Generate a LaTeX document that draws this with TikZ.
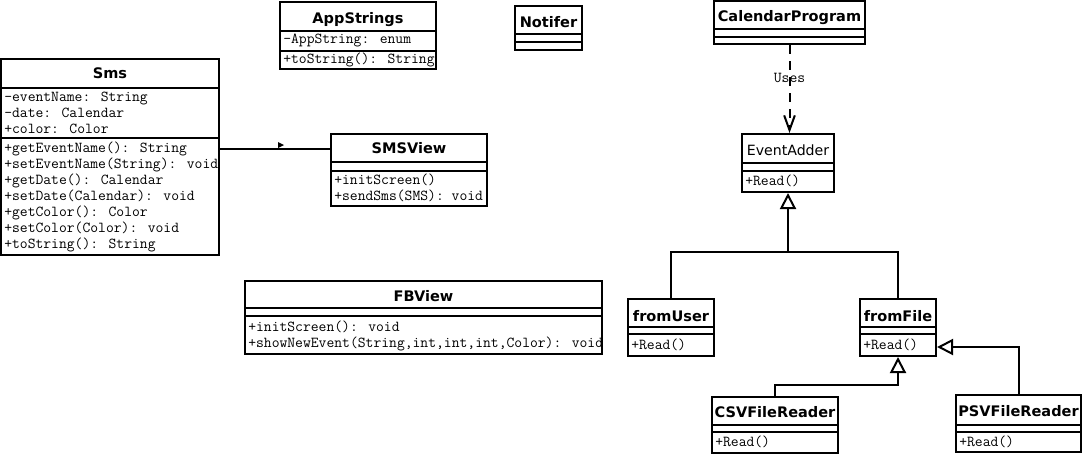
\documentclass[tikz,border=0pt]{standalone}
\usepackage{fontspec}
\setmainfont{DejaVu Sans}
\usetikzlibrary{fit,arrows.meta}
\tikzset{
 cls/.style={draw, line width=1.5pt, inner sep=0pt},
 sepline/.style={line width=1.5pt},
 title/.style={anchor=base, inner sep=0pt, font=\bfseries\fontsize{10.9}{12}\selectfont},
 plaintitle/.style={anchor=base, inner sep=0pt, font=\fontsize{10.6}{12}\selectfont},
 member/.style={anchor=base west, inner sep=0pt, font=\ttfamily\fontsize{11.4}{12}\selectfont},
 conn/.style={line width=1.5pt},
 inherit/.style={conn, -{Triangle[open, length=12pt, width=12pt, line width=1.5pt]}},
 uses/.style={conn, dash pattern=on 7pt off 5pt, -{Straight Barb[length=11pt, width=8pt, line width=1.5pt]}},
}
% name, x1, y1, x2, y2, sep1, sep2
\newcommand\umlbox[7]{%
  \node[cls, fit={(#2,#3) (#4,#5)}] (#1) {};
  \draw[sepline] (#2,#6) -- (#4,#6);
  \draw[sepline] (#2,#7) -- (#4,#7);
}
% name prefix, x, first baseline, list
\newcommand\members[4]{%
  \foreach \mtext [count=\i from 0] in {#4} {\node[member] (#1\i) at (#2,{#3+16*\i}) {\mtext};}
}
\begin{document}
\begin{tikzpicture}[x=0.75pt, y=-0.75pt]
\useasboundingbox (0,0) rectangle (1084,454);

% Sms
\umlbox{sms}{1}{59}{219}{255}{88}{138}
\node[title] (smst) at (110,78) {Sms};
\members{smsa}{4}{101}{-eventName: String, -date: Calendar, +color: Color}
\members{smsm}{4}{152}{+getEventName(): String, +setEventName(String): void, +getDate(): Calendar, +setDate(Calendar): void, +getColor(): Color, +setColor(Color): void, +toString(): String}

% AppStrings
\umlbox{app}{280}{2}{436}{69}{31}{51}
\node[title] (appt) at (358,23) {AppStrings};
\members{appa}{283}{43}{-AppString: enum}
\members{appm}{283}{63}{+toString(): String}

% Notifer
\umlbox{notifer}{515}{6}{582}{50}{34}{42}
\node[title] (notifert) at (548.5,27) {Notifer};

% SMSView
\umlbox{smsview}{331}{134}{487}{206}{162}{171}
\node[title] (smsviewt) at (409,153) {SMSView};
\members{smsviewm}{334}{184}{+initScreen(), +sendSms(SMS): void}

% FBView
\umlbox{fbview}{245}{281}{602}{354}{308}{316}
\node[title] (fbviewt) at (423.5,301) {FBView};
\members{fbviewm}{248}{331}{+initScreen(): void, {+showNewEvent(String,int,int,int,Color): void}}

% CalendarProgram
\umlbox{calprog}{714}{1}{865}{44}{29}{37}
\node[title] (calprogt) at (789.5,21) {CalendarProgram};

% EventAdder
\umlbox{eventadder}{742}{134}{834}{192}{163}{171}
\node[plaintitle] (eventaddert) at (788,155) {EventAdder};
\members{eventadderm}{745}{185}{+Read()}

% fromUser
\umlbox{fromuser}{628}{299}{714}{356}{327}{334}
\node[title] (fromusert) at (671,321) {fromUser};
\members{fromuserm}{631}{349}{+Read()}

% fromFile
\umlbox{fromfile}{860}{299}{936}{356}{327}{334}
\node[title] (fromfilet) at (898,321) {fromFile};
\members{fromfilem}{863}{349}{+Read()}

% CSVFileReader
\umlbox{csv}{712}{397}{838}{453}{425}{432}
\node[title] (csvt) at (775,417) {CSVFileReader};
\members{csvm}{715}{446}{+Read()}

% PSVFileReader
\umlbox{psv}{956}{395}{1081}{452}{425}{432}
\node[title] (psvt) at (1018.5,416) {PSVFileReader};
\members{psvm}{959}{446}{+Read()}

% connectors
\coordinate (assocY) at (0,149);
\draw[conn] (sms.east |- assocY) -- (smsview.west |- assocY);
\fill (278,142) -- (284,145) -- (278,148) -- cycle;

\draw[uses] (calprog.south) -- node[member, anchor=center, pos=0.38] (uses) {Uses} (calprog.south |- eventadder.north);

\coordinate (gen1) at (788,252);
\draw[conn] (fromuser.north) |- (gen1) -| (fromfile.north);
\draw[inherit] (gen1) -- (eventadder.south);

\coordinate (gen2) at (898,385);
\draw[inherit] (csv.north) |- (gen2) -- (fromfile.south);

\coordinate (gen3) at (0,347);
\draw[inherit] (psv.north) |- (fromfile.east |- gen3);
\end{tikzpicture}
\end{document}
